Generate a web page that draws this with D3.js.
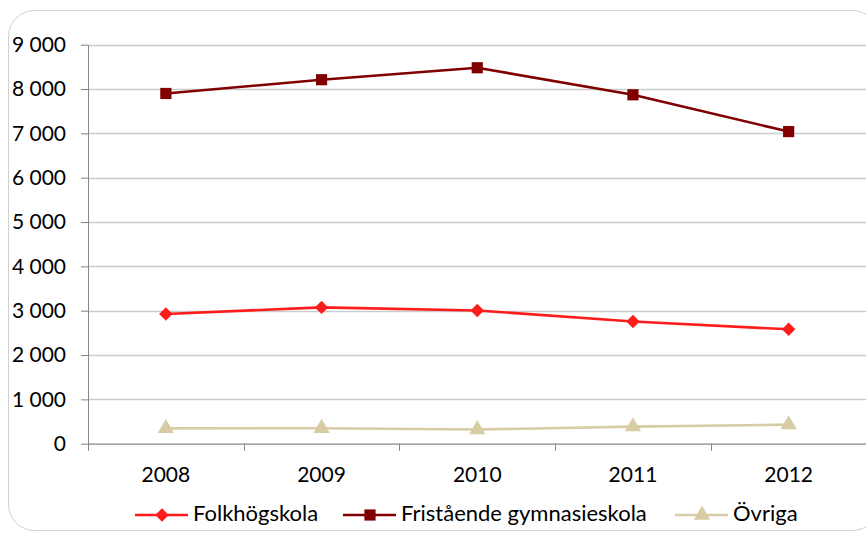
<html>
<head>
<meta charset="utf-8">
<title>chart</title>
<script src="https://d3js.org/d3.v7.min.js"></script>
<style>
body { margin:0; background:#fff; }
text { font-family: Lato, "Open Sans", sans-serif; fill:#000; }
</style>
</head>
<body>
<script>
var years = ["2008", "2009", "2010", "2011", "2012"];
var folkhogskola = [2925, 3075, 3005, 2755, 2580];
var fristaende = [7900, 8210, 8480, 7870, 7040];
var ovriga = [345, 350, 320, 385, 430];
var yTicks = [0, 1000, 2000, 3000, 4000, 5000, 6000, 7000, 8000, 9000];

var series = [
  {name: "Folkhögskola", values: folkhogskola, color: "#ff1c1c", marker: "diamond"},
  {name: "Fristående gymnasieskola", values: fristaende, color: "#800000", marker: "square"},
  {name: "Övriga", values: ovriga, color: "#d8cca4", marker: "triangle"}
];

var width = 866, height = 533;
var margin = {top: 44.7, right: 0, bottom: 89.3, left: 88};

var svg = d3.select("body").append("svg")
  .attr("width", width).attr("height", height);

// chart border
svg.append("rect")
  .attr("x", 8.5).attr("y", 10.5)
  .attr("width", 870).attr("height", 520)
  .attr("rx", 26).attr("ry", 26)
  .attr("fill", "none").attr("stroke", "#d0d0d0").attr("stroke-width", 1);

var x = d3.scaleBand().domain(years)
  .range([margin.left, margin.left + 5 * 155.7]);
var y = d3.scaleLinear().domain([0, 9000])
  .range([height - margin.bottom, margin.top]);

// gridlines
svg.append("g").selectAll("line")
  .data(yTicks.filter(function(d){ return d > 0; }))
  .enter().append("line")
  .attr("x1", margin.left).attr("x2", width)
  .attr("y1", function(d){ return Math.round(y(d)) + 0.5; })
  .attr("y2", function(d){ return Math.round(y(d)) + 0.5; })
  .attr("stroke", "#cccccc").attr("stroke-width", 1.3);

var fmt = function(d){ return d3.format(",")(d).replace(/,/g, " "); };

// y axis
var yAxis = svg.append("g")
  .attr("transform", "translate(" + margin.left + ",0)")
  .call(d3.axisLeft(y).tickValues(yTicks).tickFormat(fmt).tickSize(7).tickSizeOuter(0));
yAxis.select(".domain").attr("stroke", "#868686");
yAxis.selectAll(".tick line").attr("stroke", "#868686");
yAxis.selectAll("text")
  .attr("x", -22).style("font-size", "21px").style("font-family", "Lato, sans-serif");

// x axis
var xAxis = svg.append("g")
  .attr("transform", "translate(0," + y(0) + ")")
  .call(d3.axisBottom(x).tickSize(0).tickSizeOuter(0));
xAxis.select(".domain").attr("stroke", "#868686").attr("stroke-width", 1.3);
xAxis.selectAll(".tick line").remove();
xAxis.selectAll("text")
  .attr("y", 38).attr("dy", 0)
  .style("font-size", "21px").style("font-family", "Lato, sans-serif");

// x tick marks at band boundaries
var bounds = years.map(function(d){ return x(d); }).concat([x(years[4]) + x.bandwidth()]);
svg.append("g").selectAll("line").data(bounds).enter().append("line")
  .attr("x1", function(d){ return Math.round(d) + 0.5; })
  .attr("x2", function(d){ return Math.round(d) + 0.5; })
  .attr("y1", y(0)).attr("y2", y(0) + 7)
  .attr("stroke", "#868686");

function markerPath(type) {
  if (type === "diamond") return d3.symbol().type(d3.symbolDiamond2).size(115)();
  if (type === "square") return d3.symbol().type(d3.symbolSquare).size(125)();
  return d3.symbol().type(d3.symbolTriangle).size(115)();
}

var line = d3.line()
  .x(function(d, i){ return x(years[i]) + x.bandwidth() / 2; })
  .y(function(d){ return y(d); });

series.forEach(function(s) {
  svg.append("path")
    .attr("d", line(s.values))
    .attr("fill", "none").attr("stroke", s.color).attr("stroke-width", 2.6);
  svg.append("g").selectAll("path").data(s.values).enter().append("path")
    .attr("d", markerPath(s.marker))
    .attr("transform", function(d, i){
      return "translate(" + (x(years[i]) + x.bandwidth() / 2) + "," + y(d) + ")";
    })
    .attr("fill", s.color);
});

// legend
var legendX = [135, 343, 675];
var legend = svg.append("g").selectAll("g").data(series).enter().append("g")
  .attr("transform", function(d, i){ return "translate(" + legendX[i] + ",515)"; });
legend.append("line")
  .attr("x1", 0).attr("x2", 53)
  .attr("stroke", function(d){ return d.color; }).attr("stroke-width", 2.6);
legend.append("path")
  .attr("d", function(d){ return markerPath(d.marker); })
  .attr("transform", "translate(27,0)")
  .attr("fill", function(d){ return d.color; });
legend.append("text")
  .attr("x", 58).attr("y", 6)
  .style("font-size", "22px")
  .text(function(d){ return d.name; });
</script>
</body>
</html>
